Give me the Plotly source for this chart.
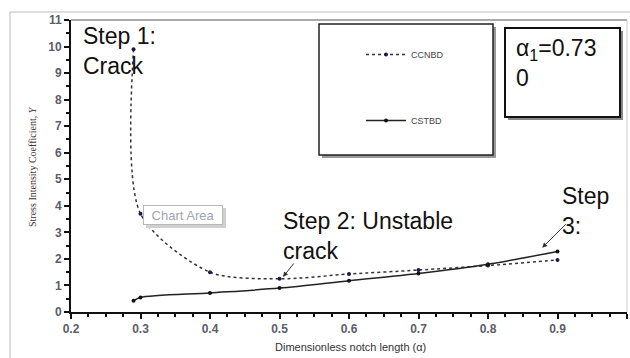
import plotly.graph_objects as go

# ---- data ----
alpha_ccnbd = [0.29, 0.30, 0.40, 0.50, 0.60, 0.70, 0.80, 0.90]
y_ccnbd = [9.9, 3.7, 1.5, 1.25, 1.43, 1.58, 1.75, 1.96]
alpha_cstbd = [0.29, 0.30, 0.40, 0.50, 0.60, 0.70, 0.80, 0.90]
y_cstbd = [0.42, 0.55, 0.72, 0.90, 1.18, 1.45, 1.80, 2.28]
x_ticks = [0.2, 0.3, 0.4, 0.5, 0.6, 0.7, 0.8, 0.9, 1.0]
x_tick_labels = ["0.2", "0.3", "0.4", "0.5", "0.6", "0.7", "0.8", "0.9", "1"]
y_ticks = list(range(0, 12))

W, H = 630, 358
L, R, T, B = 71, 627, 20, 312


def px(xp):
    return (xp - L) / (R - L)


def py(yp):
    return (B - yp) / (B - T)


fig = go.Figure()
fig.add_trace(go.Scatter(
    x=alpha_ccnbd, y=y_ccnbd, name="CCNBD", mode="lines+markers",
    line=dict(color="#333333", width=1.5, dash="dot", shape="spline", smoothing=0.8),
    marker=dict(size=4, color="#1a1a4a"), legendgroup="a"))
fig.add_trace(go.Scatter(
    x=alpha_cstbd, y=y_cstbd, name="CSTBD", mode="lines+markers",
    line=dict(color="#222222", width=1.5, shape="spline", smoothing=0.8),
    marker=dict(size=4, color="#111111"), legendgroup="b"))

shapes = []
# outer chart border (left and top)
shapes.append(dict(type="line", xref="paper", yref="paper", x0=px(10), x1=px(10), y0=py(12), y1=py(400),
                   line=dict(color="#bbbbbb", width=1)))
shapes.append(dict(type="line", xref="paper", yref="paper", x0=px(10), x1=px(640), y0=py(12), y1=py(12),
                   line=dict(color="#bbbbbb", width=1)))
# plot-area top / right borders
shapes.append(dict(type="line", xref="paper", yref="paper", x0=0, x1=1, y0=1, y1=1,
                   line=dict(color="#aaaaaa", width=2)))
shapes.append(dict(type="line", xref="paper", yref="paper", x0=1, x1=1, y0=0, y1=1,
                   line=dict(color="#cccccc", width=1)))
# legend box shadow + box
shapes.append(dict(type="rect", xref="paper", yref="paper", x0=px(322), x1=px(496), y0=py(158), y1=py(27),
                   fillcolor="#999999", line=dict(width=0)))
shapes.append(dict(type="rect", xref="paper", yref="paper", x0=px(319), x1=px(493), y0=py(155), y1=py(24),
                   fillcolor="white", line=dict(color="#222222", width=1.5)))
# alpha box shadow + box
shapes.append(dict(type="rect", xref="paper", yref="paper", x0=px(508), x1=px(623), y0=py(120), y1=py(31),
                   fillcolor="#888888", line=dict(width=0)))
shapes.append(dict(type="rect", xref="paper", yref="paper", x0=px(505), x1=px(620), y0=py(117), y1=py(28),
                   fillcolor="white", line=dict(color="#111111", width=2)))
# chart area tooltip shadow
shapes.append(dict(type="rect", xref="paper", yref="paper", x0=px(146), x1=px(226), y0=py(228), y1=py(208),
                   fillcolor="#d0d0d0", line=dict(width=0)))

annotations = []
big = dict(family="Liberation Sans, Arial", size=23, color="#111111")
annotations.append(dict(xref="paper", yref="paper", x=px(82), y=py(22), xanchor="left", yanchor="top",
                        text="Step 1:<br>Crack", showarrow=False, align="left", font=big, borderpad=0))
annotations.append(dict(xref="paper", yref="paper", x=px(282), y=py(207), xanchor="left", yanchor="top",
                        text="Step 2: Unstable<br>crack", showarrow=False, align="left", font=big, borderpad=0))
annotations.append(dict(xref="paper", yref="paper", x=px(561), y=py(182), xanchor="left", yanchor="top",
                        text="Step<br>3:", showarrow=False, align="left", font=big, borderpad=0))
annotations.append(dict(xref="paper", yref="paper", x=px(515), y=py(34), xanchor="left", yanchor="top",
                        text="α<sub>1</sub>=0.73<br>0", showarrow=False, align="left",
                        font=dict(family="Liberation Sans, Arial", size=23, color="#111111"), borderpad=0))
# arrows
annotations.append(dict(x=0.505, y=1.32, xref="x", yref="y", text="", showarrow=True,
                        ax=12, ay=-15, arrowhead=2, arrowsize=1, arrowwidth=1, arrowcolor="#333333"))
annotations.append(dict(x=0.878, y=2.42, xref="x", yref="y", text="", showarrow=True,
                        ax=25, ay=-25, arrowhead=2, arrowsize=1, arrowwidth=1, arrowcolor="#333333"))
# Chart Area tooltip
annotations.append(dict(xref="paper", yref="paper", x=px(143), y=py(205), xanchor="left", yanchor="top",
                        text="Chart Area", showarrow=False, width=78, height=18, align="center",
                        font=dict(family="Liberation Sans, Arial", size=13, color="#a0a6ae"),
                        bgcolor="white", bordercolor="#b8b8b8", borderwidth=1, borderpad=0))
# y axis title
annotations.append(dict(xref="paper", yref="paper", x=px(32), y=py(167), xanchor="center", yanchor="middle",
                        text="Stress Intensity Coefficient, <i>Y</i>", showarrow=False, textangle=-90,
                        font=dict(family="Liberation Serif, Times New Roman", size=10, color="#3d3030")))
# x axis title
annotations.append(dict(xref="paper", yref="paper", x=px(350), y=py(347), xanchor="center", yanchor="middle",
                        text="Dimensionless notch length (α)", showarrow=False,
                        font=dict(family="Liberation Sans, Arial", size=11, color="#333333")))

tickfont = dict(family="Liberation Sans, Arial", size=12, color="#5c5c6a", weight="bold")

fig.update_layout(
    width=W, height=H,
    margin=dict(l=L, r=W - R, t=T, b=H - B),
    paper_bgcolor="white", plot_bgcolor="white",
    shapes=shapes, annotations=annotations,
    showlegend=True,
    legend=dict(x=px(361), y=py(40), xanchor="left", yanchor="top",
                bgcolor="rgba(0,0,0,0)", borderwidth=0, traceorder="grouped",
                tracegroupgap=47, font=dict(family="Liberation Sans, Arial", size=9, color="#444444"),
                itemwidth=40),
    xaxis=dict(range=[0.2, 1.0], tickvals=x_ticks, ticktext=x_tick_labels, showgrid=False, zeroline=False,
               showline=True, linecolor="#111111", linewidth=2, ticks="outside", ticklen=5,
               tickcolor="#111111", tickwidth=1.5, tickfont=tickfont,
               minor=dict(dtick=0.025, ticks="outside", ticklen=3, tickcolor="#111111", showgrid=False)),
    yaxis=dict(range=[0, 11], tickvals=y_ticks, showgrid=False, zeroline=False,
               showline=True, linecolor="#111111", linewidth=2, ticks="outside", ticklen=5,
               tickcolor="#111111", tickwidth=1.5, tickfont=tickfont,
               minor=dict(dtick=0.5, ticks="outside", ticklen=3, tickcolor="#111111", showgrid=False)),
)

fig.write_html("out.html", config={"displayModeBar": False},
               post_script="document.body.style.margin='0';")
